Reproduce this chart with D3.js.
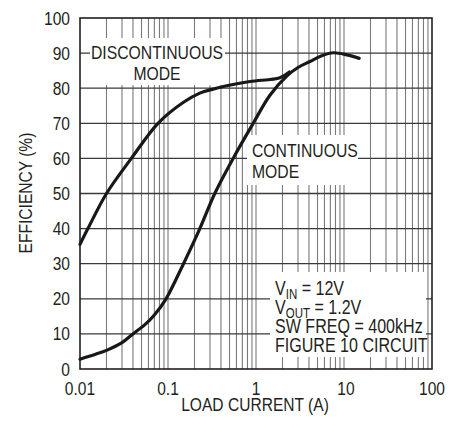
<!DOCTYPE html>
<html><head><meta charset="utf-8">
<script src="https://cdn.jsdelivr.net/npm/d3@7/dist/d3.min.js"></script>
<style>
html,body{margin:0;padding:0;background:#fff;}
svg{display:block;}
text{font-family:"Liberation Sans",Arial,sans-serif;fill:#231f20;}
</style></head>
<body>
<svg id="chart" width="452" height="423"></svg>
<script>
// ---- data ----
const xTickLabels = ["0.01", "0.1", "1", "10", "100"];
const xTickValues = [0.01, 0.1, 1, 10, 100];
const yTickValues = [0, 10, 20, 30, 40, 50, 60, 70, 80, 90, 100];

const discontinuousCurrent = [0.01, 0.0123, 0.02, 0.0383, 0.077, 0.15, 0.23, 0.31, 0.425, 0.855, 1.87, 2.4];
const discontinuousEff     = [35.5, 40, 50, 60, 70, 76.0, 78.6, 79.6, 80.5, 81.9, 83.0, 84.6];

const continuousCurrent = [0.01, 0.015, 0.02, 0.03, 0.04, 0.055, 0.07, 0.095, 0.15, 0.23, 0.34, 0.55, 0.93, 1.44, 2.25, 3.0, 4.1, 5.5, 7.6, 10.8, 14.9];
const continuousEff     = [2.8, 4.2, 5.3, 7.5, 10, 12.7, 15.4, 20, 30, 40, 50, 60, 70, 78.0, 83.5, 85.9, 87.6, 89.2, 90.1, 89.5, 88.5];

const discLabel = ["DISCONTINUOUS", "MODE"];
const contLabel = ["CONTINUOUS", "MODE"];

// ---- layout ----
const svg = d3.select("#chart");
const L = 80, R = 432, T = 18, B = 369;
const x = d3.scaleLog().domain([0.01, 100]).range([L, R]);
const y = d3.scaleLinear().domain([0, 100]).range([B, T]);
const SX = 0.82;

function txt(px, py, anchor, size, rot) {
  const g = svg.append("g").attr("transform",
    `translate(${px},${py})` + (rot ? ` rotate(${rot})` : "") + ` scale(${SX},1)`);
  return g.append("text").attr("text-anchor", anchor || "start").attr("font-size", size);
}

const grid = svg.append("g");
grid.selectAll("line.v").data(x.ticks().filter(v => v > 0.01 && v < 100))
  .join("line").attr("class", "v")
  .attr("x1", d => x(d)).attr("x2", d => x(d))
  .attr("y1", T).attr("y2", B)
  .attr("stroke", "#7a7a7a").attr("stroke-width", 1.1);
grid.selectAll("line.h").data(yTickValues.filter(v => v > 0 && v < 100))
  .join("line").attr("class", "h")
  .attr("x1", L).attr("x2", R)
  .attr("y1", d => y(d)).attr("y2", d => y(d))
  .attr("stroke", "#3a3a3a").attr("stroke-width", 1.3);

// white label boxes
const boxes = [
  [90, 38, 225, 85],
  [247, 135, 358, 185],
  [270, 272, 426, 357],
];
svg.selectAll("rect.box").data(boxes).join("rect")
  .attr("x", d => d[0]).attr("y", d => d[1])
  .attr("width", d => d[2] - d[0]).attr("height", d => d[3] - d[1])
  .attr("fill", "#fff");

svg.append("rect").attr("x", L).attr("y", T).attr("width", R - L).attr("height", B - T)
  .attr("fill", "none").attr("stroke", "#231f20").attr("stroke-width", 1.6);

const line = d3.line().x(d => x(d[0])).y(d => y(d[1])).curve(d3.curveCatmullRom.alpha(0.5));
svg.append("path").datum(discontinuousCurrent.map((c, i) => [c, discontinuousEff[i]]))
  .attr("d", line).attr("fill", "none").attr("stroke", "#1a1718").attr("stroke-width", 3.2)
  .attr("stroke-linecap", "round");
svg.append("path").datum(continuousCurrent.map((c, i) => [c, continuousEff[i]]))
  .attr("d", line).attr("fill", "none").attr("stroke", "#1a1718").attr("stroke-width", 3.2)
  .attr("stroke-linecap", "round");

const fs = 19;
yTickValues.forEach(v => txt(70, y(v) + 6.5, "end", fs).text(v));
xTickValues.forEach((v, i) => txt(x(v) + (v === 10 ? 2 : 0), 395, "middle", fs).text(xTickLabels[i]));
txt(255, 411, "middle", fs).text("LOAD CURRENT (A)");
txt(32, 193, "middle", fs, -90).text("EFFICIENCY (%)");

const afs = 19.2;
txt(157, 59, "middle", afs).text(discLabel[0]);
txt(157, 80, "middle", afs).text(discLabel[1]);
txt(252, 157, "start", afs).text(contLabel[0]);
txt(252, 178, "start", afs).text(contLabel[1]);

const lx = 275, lfs = 19.6;
const t1 = txt(lx, 295, "start", lfs);
t1.append("tspan").text("V");
t1.append("tspan").attr("font-size", 14).attr("dy", 4).text("IN");
t1.append("tspan").attr("dy", -4).text(" = 12V");
const t2 = txt(lx, 314, "start", lfs);
t2.append("tspan").text("V");
t2.append("tspan").attr("font-size", 14).attr("dy", 4).text("OUT");
t2.append("tspan").attr("dy", -4).text(" = 1.2V");
txt(lx, 333, "start", lfs).text("SW FREQ = 400kHz");
txt(lx, 352, "start", lfs).text("FIGURE 10 CIRCUIT");
</script>
</body></html>
